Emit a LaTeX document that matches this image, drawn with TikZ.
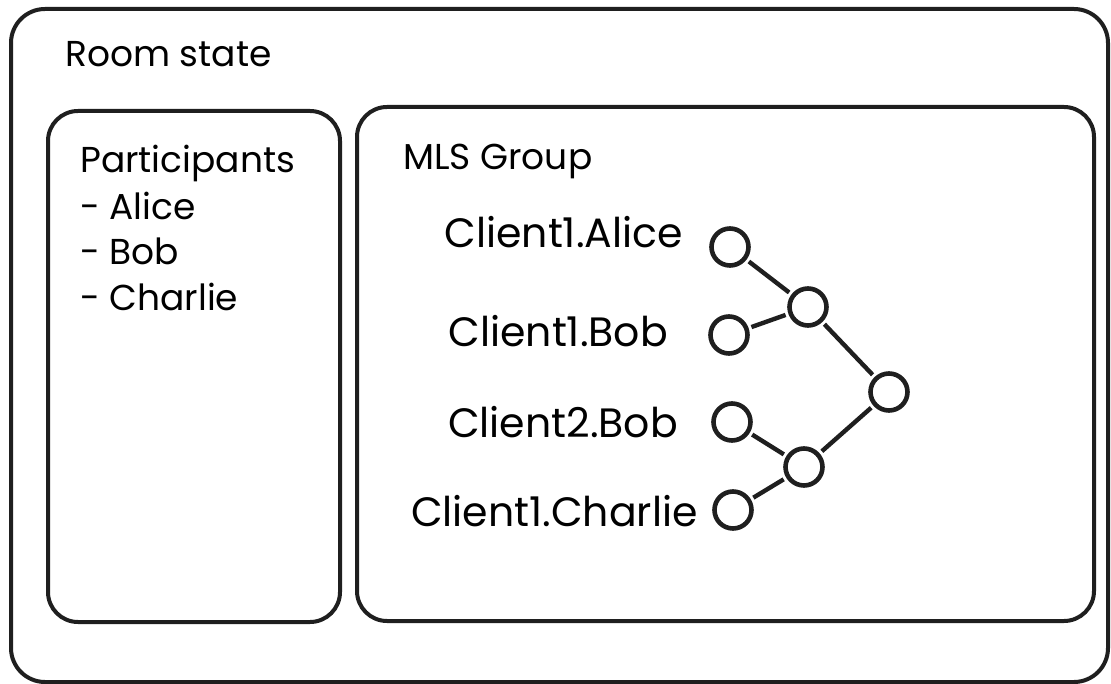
\documentclass[tikz,border=0pt]{standalone}
\usepackage{fontspec}
\setmainfont{Poppins}
\begin{document}
\begin{tikzpicture}[x=1pt,y=-1pt,
  frame/.style={draw=black!88,line width=4pt,rounded corners=34pt},
  label/.style={anchor=base west,inner sep=0pt,font=\fontsize{36}{40}\selectfont},
  client/.style={anchor=base east,inner sep=0pt,font=\fontsize{41}{48}\selectfont},
  leaf/.style={circle,draw=black!88,line width=4.6pt,minimum size=37pt,inner sep=0pt},
  edge/.style={draw=black!88,line width=4.4pt,shorten <=3pt,shorten >=3pt}]
\useasboundingbox (0,0) rectangle (1111,684);
% frames
\draw[frame] (11,9) rectangle (1108,682);
\draw[frame,rounded corners=30pt] (48,111) rectangle (340,622);
\draw[frame,rounded corners=30pt] (357,107) rectangle (1094,621);
% headings
\node[label] (room) at (65,67) {Room state};
\node[label] (parts) at (80,173) {Participants};
\node[label] (pa) at (80,220) {- Alice};
\node[label] (pb) at (80,265) {- Bob};
\node[label] (pc) at (80,311) {- Charlie};
\node[label] (mls) at (403,170) {MLS Group};
% client labels
\node[client] (t1) at (683,248) {Client1.Alice};
\node[client] (t2) at (668,347) {Client1.Bob};
\node[client] (t3) at (678,437) {Client2.Bob};
\node[client] (t4) at (698,526) {Client1.Charlie};
% ratchet tree
\node[leaf] (c1) at (730,247) {};
\node[leaf] (c2) at (729,335) {};
\node[leaf] (c3) at (732,422) {};
\node[leaf] (c4) at (733,510) {};
\node[leaf] (m1) at (808,307) {};
\node[leaf] (m2) at (804,467) {};
\node[leaf] (r) at (889,392) {};
\draw[edge] (c1) -- (m1);
\draw[edge] (c2) -- (m1);
\draw[edge] (m1) -- (r);
\draw[edge] (r) -- (m2);
\draw[edge] (c3) -- (m2);
\draw[edge] (c4) -- (m2);
\end{tikzpicture}
\end{document}
